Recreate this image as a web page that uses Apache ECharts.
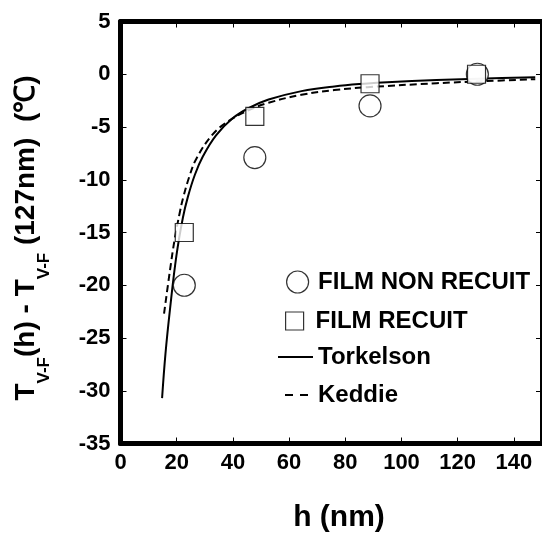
<!DOCTYPE html>
<html><head><meta charset="utf-8">
<script src="https://cdn.jsdelivr.net/npm/echarts@6/dist/echarts.min.js"></script>
<style>html,body{margin:0;padding:0;background:#fff}#c{width:542px;height:541px}</style>
</head><body><div id="c"></div>
<script>
// ---- data ----
const nonRecuitH = [22.7, 47.8, 88.8, 127.0];
const nonRecuitT = [-20.0, -7.9, -3.0, 0.0];
const recuitH = [22.7, 47.8, 88.8, 126.7];
const recuitT = [-15.0, -4.0, -0.9, 0.0];
const torkelsonH = [14.8, 16.0, 17.6, 19.9, 22.2, 24.0, 26.5, 29.3, 34.0, 39.8, 45.7, 52.7, 64.4, 76.1, 87.9, 94.9, 112.5, 130.0, 147.6];
const torkelsonT = [-30.7, -26.5, -22.3, -17.2, -13.6, -11.6, -9.5, -7.8, -5.8, -4.2, -3.2, -2.4, -1.6, -1.15, -0.87, -0.75, -0.54, -0.4, -0.29];
const keddieH = [15.5, 17.6, 19.3, 21.1, 22.3, 24.5, 27.0, 32.8, 38.7, 45.7, 52.7, 64.4, 76.1, 87.9, 112.5, 130.0, 147.6];
const keddieT = [-22.7, -18.6, -15.6, -13.1, -11.7, -9.7, -8.0, -5.7, -4.4, -3.4, -2.7, -1.95, -1.5, -1.23, -0.85, -0.65, -0.47];
const xRange = [0, 150], xStep = 20;
const yRange = [-35, 5], yStep = 5;
const seriesNames = ['FILM NON RECUIT', 'FILM RECUIT', 'Torkelson', 'Keddie'];
const xTitle = 'h (nm)';
const yTitleParts = [
  {t: 'T', sub: false}, {t: 'V-F', sub: true}, {t: '(h) - T', sub: false},
  {t: 'V-F', sub: true}, {t: ' (127nm)  (\u2103)', sub: false}
];

const FONT = '"Liberation Sans", Arial, Helvetica, sans-serif';
const zip = (a, b) => a.map((v, i) => [v, b[i]]);

const mctx = document.createElement('canvas').getContext('2d');
function tw(text, size) { mctx.font = 'bold ' + size + 'px ' + FONT; return mctx.measureText(text).width; }
const MAIN = 28, SUB = 17;
let widths = yTitleParts.map(p => tw(p.t, p.sub ? SUB : MAIN));
let W = widths.reduce((a, b) => a + b, 0);
let cx = -W / 2;
const titleChildren = yTitleParts.map((p, i) => {
  const el = {
    type: 'text', x: cx, y: p.sub ? 18 : 0,
    style: {text: p.t, font: 'bold ' + (p.sub ? SUB : MAIN) + 'px ' + FONT, fill: '#000',
      align: 'left', textAlign: 'left', verticalAlign: 'middle', textVerticalAlign: 'middle'}
  };
  cx += widths[i];
  return el;
});

const chart = echarts.init(document.getElementById('c'), null, {renderer: 'canvas'});
const tickLabel = {fontSize: 22, fontWeight: 'bold', color: '#000', fontFamily: FONT};
const axLine = {onZero: false, lineStyle: {color: '#000', width: 5}};
const axTick = {inside: true, length: 6, lineStyle: {color: '#000', width: 1}};
const legText = {fontFamily: FONT, fontWeight: 'bold', fontSize: 24, color: '#000', lineHeight: 24};
const symStyle = {color: '#fff', borderColor: '#000', borderWidth: 1.2};
const hiddenSym = {opacity: 0};
const SQUARE = 'path://M0,0H10V10H0Z';

chart.setOption({
  animation: false,
  backgroundColor: '#fff',
  grid: {left: 120.5, top: 21.5, right: -4.5, bottom: 97.5, containLabel: false},
  xAxis: [
    {type: 'value', min: xRange[0], max: xRange[1], interval: xStep, position: 'bottom',
      axisLine: axLine, axisTick: axTick, splitLine: {show: false},
      axisLabel: Object.assign({margin: 8, showMaxLabel: false}, tickLabel)},
    {type: 'value', min: xRange[0], max: xRange[1], interval: xStep, position: 'top',
      axisLine: axLine, axisTick: axTick, splitLine: {show: false}, axisLabel: {show: false}}
  ],
  yAxis: [
    {type: 'value', min: yRange[0], max: yRange[1], interval: yStep, position: 'left',
      axisLine: axLine, axisTick: axTick, splitLine: {show: false},
      axisLabel: Object.assign({margin: 10}, tickLabel)},
    {type: 'value', min: yRange[0], max: yRange[1], interval: yStep, position: 'right',
      axisLine: axLine, axisTick: axTick, splitLine: {show: false}, axisLabel: {show: false}}
  ],
  legend: [
    {data: [{name: seriesNames[0], icon: 'circle', itemStyle: symStyle}], left: 286, top: 270, padding: 0,
      itemWidth: 31, itemHeight: 22, textStyle: legText, selectedMode: false},
    {data: [{name: seriesNames[1], icon: SQUARE, itemStyle: symStyle}], left: 285, top: 309, padding: 0,
      itemWidth: 32, itemHeight: 18, textStyle: legText, selectedMode: false, symbolKeepAspect: true},
    {data: [seriesNames[2]], left: 277, top: 345, padding: 0, itemStyle: hiddenSym,
      itemWidth: 35, itemHeight: 22, textStyle: legText, selectedMode: false},
    {data: [seriesNames[3]], left: 277, top: 383, padding: 0, itemStyle: hiddenSym,
      itemWidth: 35, itemHeight: 22, textStyle: legText, selectedMode: false,
      lineStyle: {type: [8, 7], dashOffset: 8}}
  ],
  series: [
    {name: seriesNames[2], type: 'line', data: zip(torkelsonH, torkelsonT), symbol: 'none', showSymbol: false,
      smooth: 0.4, lineStyle: {color: '#000', width: 2}, itemStyle: {color: '#000'}, z: 2},
    {name: seriesNames[3], type: 'line', data: zip(keddieH, keddieT), symbol: 'none', showSymbol: false,
      smooth: 0.4, lineStyle: {color: '#000', width: 2, type: [7, 4]}, itemStyle: {color: '#000'}, z: 2},
    {name: seriesNames[0], type: 'scatter', data: zip(nonRecuitH, nonRecuitT), symbol: 'circle', symbolSize: 22,
      itemStyle: symStyle, z: 3},
    {name: seriesNames[1], type: 'scatter', data: zip(recuitH, recuitT), symbol: 'rect', symbolSize: 18,
      itemStyle: symStyle, z: 4}
  ],
  graphic: [
    {type: 'text', x: 339, y: 518,
      style: {text: xTitle, font: 'bold 30px ' + FONT, fill: '#000', align: 'center', textAlign: 'center',
        verticalAlign: 'middle', textVerticalAlign: 'middle'}},
    {type: 'group', x: 26, y: 238, rotation: Math.PI / 2, children: titleChildren}
  ]
});
</script>
</body></html>
